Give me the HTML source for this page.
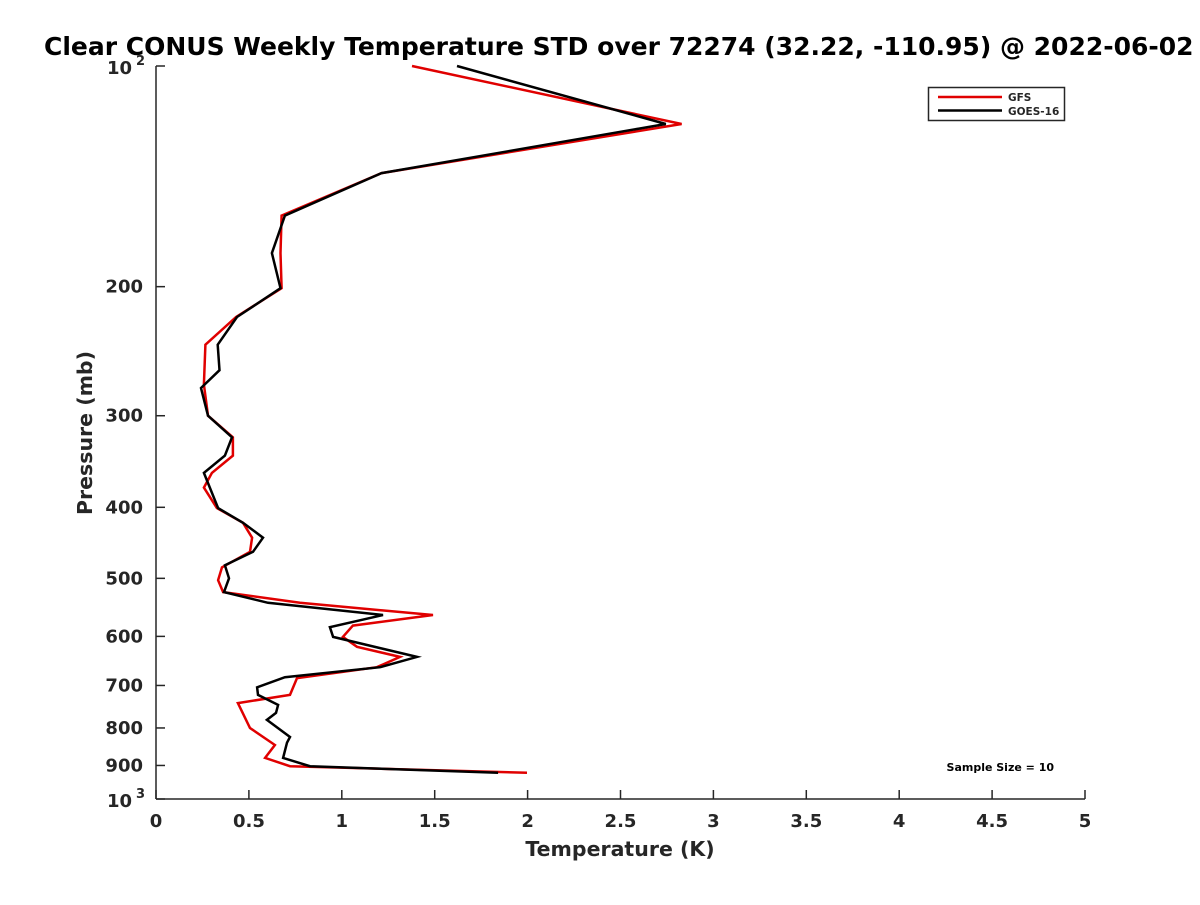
<!DOCTYPE html>
<html><head><meta charset="utf-8"><style>
body{margin:0;background:#fff;}
svg text{font-family:"DejaVu Sans","Liberation Sans",sans-serif;font-weight:bold;fill:#262626;}
</style></head><body>
<svg id="chart" width="1200" height="900" viewBox="0 0 1200 900">
<rect width="1200" height="900" fill="#fff"/>
<text x="44" y="55" font-size="25" style="fill:#000">Clear CONUS Weekly Temperature STD over 72274 (32.22, -110.95) @ 2022-06-02</text>
<g id="axes"></g>
<g id="series"></g>
<text x="620" y="856" font-size="20.5" text-anchor="middle">Temperature (K)</text>
<text transform="translate(92,433) rotate(-90)" font-size="20.5" text-anchor="middle">Pressure (mb)</text>
<g>
<rect x="928.5" y="87.5" width="136" height="33" fill="#fff" stroke="#262626" stroke-width="1.5"/>
<line x1="938" y1="97" x2="1002" y2="97" stroke="#e00000" stroke-width="2.5"/>
<text x="1008" y="101" font-size="10.5">GFS</text>
<line x1="938" y1="110.5" x2="1002" y2="110.5" stroke="#000" stroke-width="2.5"/>
<text x="1008" y="115" font-size="10.5">GOES-16</text>
</g>
<text x="1054" y="771" font-size="11" text-anchor="end" style="fill:#000">Sample Size = 10</text>
</svg>
<script>
const xTicks=[0,0.5,1,1.5,2,2.5,3,3.5,4,4.5,5];
const yTicks=[200,300,400,500,600,700,800,900];
const gfsP=[100,120,140,160,180,201,220,240,272,300,321,340,359,376,401,420,440,460,483,503,522,540,561,580,601,620,640,661,684,721,740,800,844,879,902,921];
const gfsT=[1.378,2.829,1.214,0.676,0.670,0.676,0.431,0.266,0.258,0.280,0.414,0.414,0.301,0.258,0.328,0.468,0.517,0.506,0.355,0.334,0.361,0.775,1.491,1.060,1.006,1.082,1.313,1.189,0.759,0.721,0.441,0.506,0.640,0.587,0.721,1.997];
const goesP=[100,120,140,160,180,201,220,240,260,275,300,321,340,359,401,420,440,460,480,500,522,540,561,583,601,640,661,682,704,721,744,763,780,823,838,879,902,921];
const goesT=[1.620,2.744,1.214,0.694,0.624,0.670,0.436,0.332,0.342,0.242,0.280,0.409,0.371,0.258,0.334,0.468,0.576,0.522,0.371,0.393,0.366,0.603,1.222,0.936,0.953,1.405,1.206,0.694,0.544,0.549,0.657,0.646,0.597,0.721,0.705,0.684,0.829,1.841];
const X0=156,X1=1085,Y0=66,Y1=799;
const xs=v=>X0+(v/5)*(X1-X0);
const ys=p=>Y0+(Math.log10(p)-2)*(Y1-Y0);
const NS="http://www.w3.org/2000/svg";
const ax=document.getElementById('axes');
function mk(t,a,parent){const e=document.createElementNS(NS,t);for(const k in a)e.setAttribute(k,a[k]);parent.appendChild(e);return e;}
let l=mk('line',{x1:X0,y1:Y0,x2:X0,y2:Y1,stroke:'#262626','stroke-width':1.5},ax);


l=mk('line',{x1:X0,y1:Y1,x2:X1,y2:Y1,stroke:'#262626','stroke-width':1.5},ax);


xTicks.forEach(v=>{
 const t=mk('line',{x1:xs(v),y1:Y1,x2:xs(v),y2:Y1-9,stroke:'#262626','stroke-width':1.5},ax);
 
 
 const tx=mk('text',{x:xs(v),y:Y1+28,'font-size':18,'text-anchor':'middle'},ax);
 tx.textContent=String(v);
 
 
});
[100,1000].concat(yTicks).forEach(p=>{
 const t=mk('line',{x1:X0,y1:ys(p),x2:X0+9,y2:ys(p),stroke:'#262626','stroke-width':1.5},ax);
 
 
});
yTicks.forEach(p=>{
 const tx=mk('text',{x:X0-13,y:ys(p)+6,'font-size':18,'text-anchor':'end'},ax);
 tx.textContent=String(p);
 
 
});
[[100,'2'],[1000,'3']].forEach(([p,e])=>{
 const tx=mk('text',{x:X0-49,y:ys(p)+8,'font-size':18},ax);
 tx.textContent='10';
 
 
 const sp=mk('text',{x:X0-20,y:ys(p)-1,'font-size':13},ax);
 sp.textContent=e;
 
 
});
const sg=document.getElementById('series');
function draw(T,P,col,name){
 const pts=T.map((t,i)=>xs(t).toFixed(1)+','+ys(P[i]).toFixed(1)).join(' ');
 const pl=mk('polyline',{points:pts,fill:'none',stroke:col,'stroke-width':2.5,'stroke-linejoin':'miter'},sg);
 
 
}
draw(gfsT,gfsP,'#e00000','gfs-line');
draw(goesT,goesP,'#000000','goes16-line');
</script>
</body></html>
